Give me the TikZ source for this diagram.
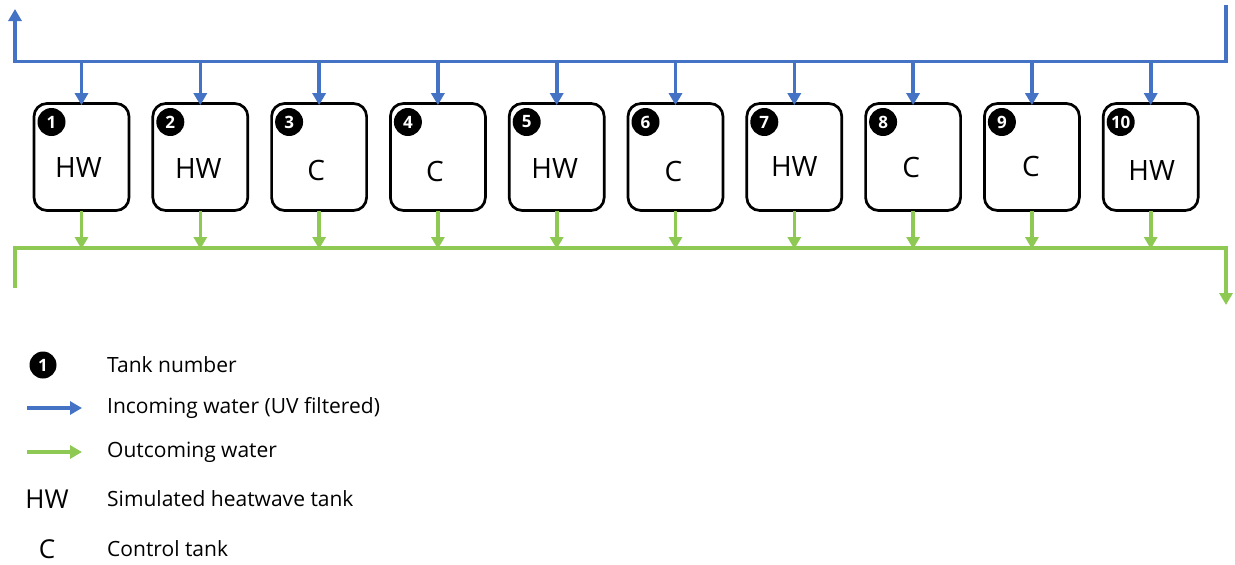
\documentclass[tikz,border=0pt]{standalone}
\usepackage{fontspec}
\setmainfont{Open Sans}
\usetikzlibrary{arrows.meta}
\definecolor{inblue}{HTML}{4472C4}
\definecolor{outgreen}{HTML}{8DC953}
\begin{document}
\begin{tikzpicture}[x=1pt,y=-1pt,
  tank/.style={draw,line width=2.7pt,rounded corners=13pt,minimum width=95pt,minimum height=107pt,inner sep=0pt},
  badge/.style={circle,fill=black,minimum size=28pt,inner sep=0pt,text=white,font=\fontsize{17}{17}\selectfont\bfseries},
  kind/.style={inner sep=0pt,font=\fontsize{28}{28}\selectfont},
  pipein/.style={inblue,line width=3.6pt,line join=miter},
  pipeout/.style={outgreen,line width=3.6pt,line join=miter},
  tip/.style={-{Triangle[length=12pt,width=13pt]}},
  legtext/.style={anchor=west,inner sep=0pt,font=\fontsize{21}{21}\selectfont},
  legsym/.style={inner sep=0pt,font=\fontsize{26}{26}\selectfont}]
\useasboundingbox (0,0) rectangle (1235,565);

% supply and drain mains
\coordinate (inR) at (1226,5);
\coordinate (inRj) at (1226,61.5);
\coordinate (inLj) at (15,61.5);
\coordinate (inL) at (15,9);
\coordinate (outL) at (15,288);
\coordinate (outLj) at (15,248);
\coordinate (outRj) at (1226,248);
\coordinate (outR) at (1226,305);
\draw[pipein,tip] (inR) -- (inRj) -- (inLj) -- (inL);
\draw[pipeout,tip] (outL) -- (outLj) -- (outRj) -- (outR);

% tanks with their inlets and outlets
\foreach \i/\k/\kx/\ky in {1/HW/-3/168,2/HW/-2/169,3/C/-3/170,4/C/-3/171,5/HW/-2/169,6/C/-2/171,7/HW/0/167,8/C/-2/167,9/C/-1/166,10/HW/1/171}{
  \pgfmathsetmacro{\cx}{81.5+118.8*(\i-1)}
  \node[tank] (t\i) at (\cx,157) {};
  \node[badge] (b\i) at (\cx-30,122) {\i};
  \node[kind] (k\i) at (\cx+\kx,\ky) {\k};
  \draw[pipein,tip] (t\i.north |- inLj) -- ([yshift=-3pt]t\i.north);
  \draw[pipeout,tip] ([yshift=1pt]t\i.south) -- ([yshift=-1pt]t\i.south |- outLj);
}

% legend
\node[badge,minimum size=27pt] (lb) at (43,365) {1};
\node[legtext] (lt1) at (107,365) {Tank number};
\coordinate (la1) at (27,408);
\coordinate (la2) at (82,408);
\draw[pipein,tip] (la1) -- (la2);
\node[legtext] (lt2) at (107,408) {Incoming water (UV filtered)};
\coordinate (lg1) at (27,452);
\coordinate (lg2) at (82,452);
\draw[pipeout,tip] (lg1) -- (lg2);
\node[legtext] (lt3) at (107,452) {Outcoming water};
\node[legsym] (lhw) at (47,499) {HW};
\node[legtext] (lt4) at (107,499) {Simulated heatwave tank};
\node[legsym] (lc) at (47,549) {C};
\node[legtext] (lt5) at (107,549) {Control tank};
\end{tikzpicture}
\end{document}
